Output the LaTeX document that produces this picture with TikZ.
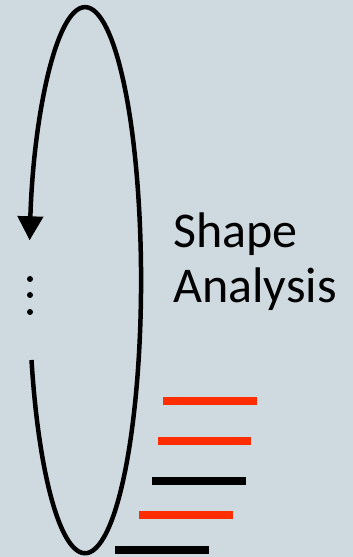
\documentclass[tikz,border=0pt]{standalone}
\usepackage{fontspec}
\newfontfamily\labelfont{Carlito}
\usetikzlibrary{arrows.meta}
\definecolor{slate}{RGB}{207,218,224}
\definecolor{barred}{RGB}{255,45,0}
\tikzset{
    loopline/.style={line width=4.5pt},
    bar/.style={line width=8pt},
}
\begin{document}
\begin{tikzpicture}[x=1pt, y=1pt]
    \useasboundingbox (0,0) rectangle (353,557);
    \fill[slate] (0,0) rectangle (353,557);

    % the loop, open on the left
    \draw[loopline, -{Triangle[length=24pt, width=25pt]}]
        (31.5,197) arc[start angle=197, end angle=531.6, x radius=56pt, y radius=273pt];

    \foreach \y in {278,262,245}
        \fill (30,\y) circle (3pt);

    \node[anchor=base west, align=left, inner sep=0pt,
          font=\labelfont\fontsize{50}{55}\selectfont] (title) at (173,254) {Shape\\Analysis};

    \draw[bar, barred] (163,156) -- (257,156);
    \draw[bar, barred] (158,116) -- (251,116);
    \draw[bar, black]  (152,76)  -- (246,76);
    \draw[bar, barred] (139,42)  -- (233,42);
    \draw[bar, black]  (115,7)   -- (209,7);
\end{tikzpicture}
\end{document}
